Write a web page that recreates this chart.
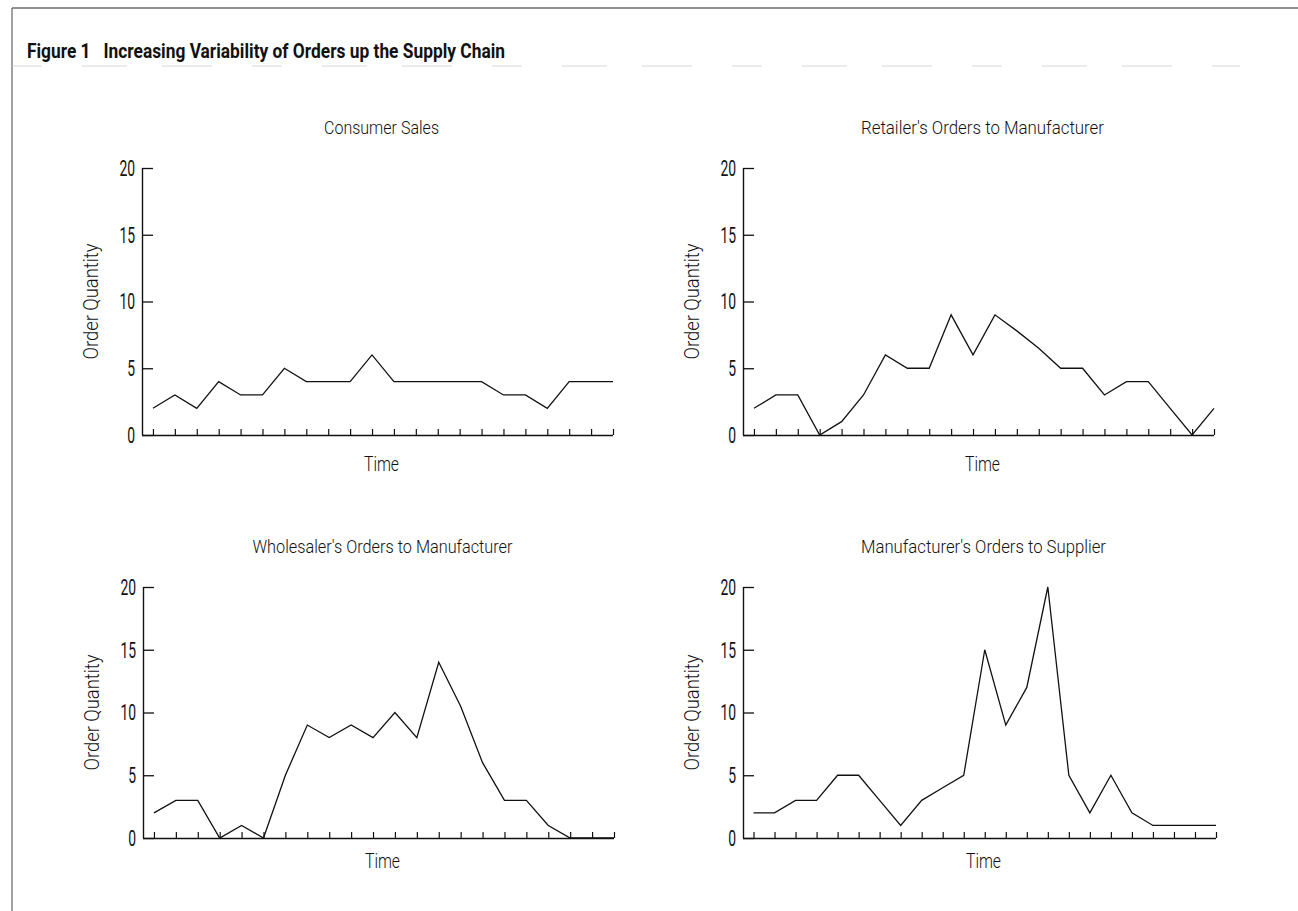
<!DOCTYPE html>
<html>
<head>
<meta charset="utf-8">
<script src="https://cdn.jsdelivr.net/npm/d3@7"></script>
<style>
  body { margin: 0; background: #fff; }
  text { font-family: 'Roboto', 'Liberation Sans', sans-serif; font-weight: 300; fill: #111; }
  .title { font-weight: bold; }
  .ylab { font-weight: 400; }
</style>
</head>
<body>
<div id="chart"></div>
<script>
// values
var panelTitles = [
  'Consumer Sales',
  "Retailer's Orders to Manufacturer",
  "Wholesaler's Orders to Manufacturer",
  "Manufacturer's Orders to Supplier"
]
var consumerSales = [2, 3, 2, 4, 3, 3, 5, 4, 4, 4, 6, 4, 4, 4, 4, 4, 3, 3, 2, 4, 4, 4]
var retailerOrders = [2, 3, 3, 0, 1, 3, 6, 5, 5, 9, 6, 9, 7.8, 6.5, 5, 5, 3, 4, 4, 2, 0, 2]
var wholesalerOrders = [2, 3, 3, 0, 1, 0, 5, 9, 8, 9, 8, 10, 8, 14, 10.5, 6, 3, 3, 1, 0, 0, 0]
var manufacturerOrders = [2, 2, 3, 3, 5, 5, 3, 1, 3, 4, 5, 15, 9, 12, 20, 5, 2, 5, 2, 1, 1, 1, 1]
var yTicks = [0, 5, 10, 15, 20]
var yLabel = 'Order Quantity'
var xLabel = 'Time'
var figTitle = 'Figure 1   Increasing Variability of Orders up the Supply Chain'

var width = 1298
var height = 911

var svg = d3
  .select('#chart')
  .append('svg')
  .attr('width', width)
  .attr('height', height)

// frame: top rule and left rule
svg.append('line')
  .attr('x1', 12).attr('x2', width).attr('y1', 8).attr('y2', 8)
  .attr('stroke', '#222').attr('stroke-width', 1.2)
svg.append('line')
  .attr('x1', 12).attr('x2', 12).attr('y1', 8).attr('y2', height)
  .attr('stroke', '#444').attr('stroke-width', 1)

svg.append('text')
  .attr('class', 'title')
  .attr('x', 27)
  .attr('y', 58)
  .attr('font-size', 20)
  .attr('textLength', 478)
  .attr('lengthAdjust', 'spacingAndGlyphs')
  .style('white-space', 'pre')
  .text(figTitle)

// faint broken rule under the title
svg.append('line')
  .attr('x1', 12).attr('x2', 1240).attr('y1', 66).attr('y2', 66)
  .attr('stroke', '#c4c4c4').attr('stroke-width', 0.7)
  .attr('stroke-dasharray', '30,40,45,35,50,40')

// panel layout
var panels = [
  { title: panelTitles[0], values: consumerSales, x0: 142, x1: 613, y0: 435, y1: 168, tw: 115, tg: 36 },
  { title: panelTitles[1], values: retailerOrders, x0: 743, x1: 1214, y0: 435, y1: 168, tw: 243, tg: 36 },
  { title: panelTitles[2], values: wholesalerOrders, x0: 143, x1: 614, y0: 838, y1: 587, tw: 260, tg: 30 },
  { title: panelTitles[3], values: manufacturerOrders, x0: 743, x1: 1216, y0: 838, y1: 587, tw: 245, tg: 30 }
]

panels.forEach(function(p) {
  var n = p.values.length
  var step = (p.x1 - p.x0) / (n - 0.5)

  var xPositionScale = d3
    .scaleLinear()
    .domain([0, n - 1])
    .range([p.x0 + step / 2, p.x1])

  var yPositionScale = d3
    .scaleLinear()
    .domain([0, 20])
    .range([p.y0, p.y1])

  var g = svg.append('g')

  // y axis, ticks pointing inward
  var yAxis = d3
    .axisRight(yPositionScale)
    .tickValues(yTicks)
    .tickSize(11)
    .tickFormat('')
  g.append('g')
    .attr('class', 'axis y-axis')
    .attr('transform', 'translate(' + p.x0 + ',0)')
    .call(yAxis)
  g.selectAll('.y-axis path').attr('stroke', '#111').attr('stroke-width', 1.4)
    .attr('d', 'M0.5,' + p.y1 + 'V' + p.y0)
  g.selectAll('.y-axis line').attr('stroke', '#111').attr('stroke-width', 1.3)

  g.selectAll('.ylab')
    .data(yTicks)
    .enter()
    .append('text')
    .attr('class', 'ylab')
    .attr('x', p.x0 - 7)
    .attr('y', d => yPositionScale(d))
    .attr('dy', '0.36em')
    .attr('text-anchor', 'end')
    .attr('font-size', 22)
    .attr('textLength', d => String(d).length * 7.8)
    .attr('lengthAdjust', 'spacingAndGlyphs')
    .text(d => d)

  // x axis, ticks pointing up
  var xAxis = d3
    .axisTop(xPositionScale)
    .tickValues(d3.range(n))
    .tickSize(6)
    .tickFormat('')
  g.append('g')
    .attr('class', 'axis x-axis')
    .attr('transform', 'translate(0,' + p.y0 + ')')
    .call(xAxis)
  g.selectAll('.x-axis path').attr('stroke', '#111').attr('stroke-width', 1.4)
    .attr('d', 'M' + p.x0 + ',0.5H' + p.x1)
  g.selectAll('.x-axis line').attr('stroke', '#111').attr('stroke-width', 1.2)

  var line = d3
    .line()
    .x((d, i) => xPositionScale(i))
    .y(d => yPositionScale(d))

  g.append('path')
    .datum(p.values)
    .attr('d', line)
    .attr('fill', 'none')
    .attr('stroke', '#111')
    .attr('stroke-width', 1.3)
    .attr('stroke-linejoin', 'miter')

  var cx = (p.x0 + p.x1) / 2 + 4
  var cy = (p.y0 + p.y1) / 2

  g.append('text')
    .attr('x', cx)
    .attr('y', p.y1 - 34)
    .attr('text-anchor', 'middle')
    .attr('font-size', 18)
    .attr('textLength', p.tw)
    .attr('lengthAdjust', 'spacingAndGlyphs')
    .text(p.title)

  g.append('text')
    .attr('x', cx)
    .attr('y', p.y0 + p.tg)
    .attr('text-anchor', 'middle')
    .attr('font-size', 20)
    .attr('textLength', 35)
    .attr('lengthAdjust', 'spacingAndGlyphs')
    .text(xLabel)

  g.append('text')
    .attr('transform', 'translate(' + (p.x0 - 44) + ',' + cy + ') rotate(-90)')
    .attr('text-anchor', 'middle')
    .attr('font-size', 20)
    .attr('textLength', 116)
    .attr('lengthAdjust', 'spacingAndGlyphs')
    .text(yLabel)
})
</script>
</body>
</html>
